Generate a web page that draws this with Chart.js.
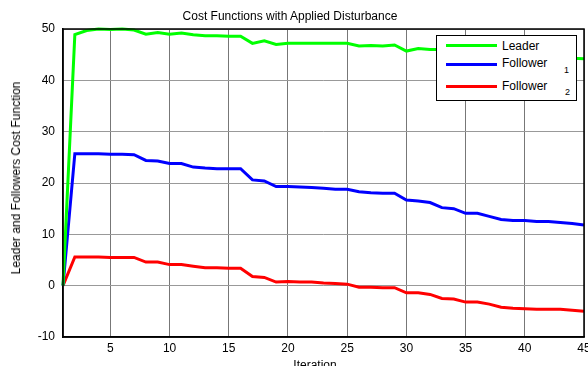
<!DOCTYPE html>
<html lang="en">
<head>
  <meta charset="UTF-8" />
  <title>Cost Functions with Applied Disturbance</title>
  <script src="https://cdn.jsdelivr.net/npm/chart.js"></script>
  <style>
    body { margin: 0; background: #fff; font-family: 'Liberation Sans', Arial, sans-serif; color: #000; }
    #wrap { position: relative; width: 588px; height: 366px; overflow: hidden; }
    #wrap canvas { position: absolute; left: 0; top: 0; }
    .txt { position: absolute; font-size: 12px; line-height: 14px; white-space: nowrap; }
    #title { left: 0; width: 580px; top: 9px; text-align: center; }
    #ylab { left: 16px; top: 178px; transform: translate(-50%, -50%) rotate(-90deg); }
    #xlab { left: 315px; top: 358px; transform: translateX(-50%); }
    #legend { position: absolute; left: 436px; top: 35px; width: 139px; height: 64px; border: 1.5px solid #000; background: #fff; }
    .swatch { position: absolute; left: 9px; width: 51px; height: 3px; }
    .leg { position: absolute; left: 65px; font-size: 12px; line-height: 14px; }
    .sub { position: absolute; font-size: 9px; line-height: 10px; }
  </style>
</head>
<body>
  <div id="wrap">
    <canvas id="chart" width="588" height="366"></canvas>
    <div class="txt" id="title">Cost Functions with Applied Disturbance</div>
    <div class="txt" id="ylab">Leader and Followers Cost Function</div>
    <div class="txt" id="xlab">Iteration</div>
    <div id="legend">
      <div class="swatch" style="top:8px; background:#00ff00"></div>
      <div class="leg" style="top:3px">Leader</div>
      <div class="swatch" style="top:27px; background:#0000ff"></div>
      <div class="leg" style="top:20px">Follower</div>
      <div class="sub" style="left:127px; top:29px">1</div>
      <div class="swatch" style="top:49px; background:#ff0000"></div>
      <div class="leg" style="top:43px">Follower</div>
      <div class="sub" style="left:128px; top:51px">2</div>
    </div>
  </div>

  <script>
    const iterations = [1, 2, 3, 4, 5, 6, 7, 8, 9, 10, 11, 12, 13, 14, 15, 16, 17, 18, 19, 20,
      21, 22, 23, 24, 25, 26, 27, 28, 29, 30, 31, 32, 33, 34, 35, 36, 37, 38, 39, 40,
      41, 42, 43, 44, 45];

    const leader = [0, 48.9, 49.7, 50, 49.9, 50, 49.8, 49.0, 49.3, 49.0, 49.2, 48.9, 48.7, 48.7, 48.6,
      48.6, 47.2, 47.7, 47.0, 47.2, 47.2, 47.2, 47.2, 47.2, 47.2, 46.7, 46.8, 46.7, 46.9, 45.7,
      46.2, 46.0, 46.0, 45.8, 45.5, 45.5, 45.3, 45.0, 44.8, 44.7, 44.6, 44.5, 44.4, 44.3, 44.2];

    const follower1 = [0, 25.7, 25.7, 25.7, 25.6, 25.6, 25.5, 24.4, 24.3, 23.8, 23.8, 23.1, 22.9, 22.8, 22.8,
      22.8, 20.6, 20.4, 19.3, 19.3, 19.2, 19.1, 19.0, 18.8, 18.8, 18.3, 18.1, 18.0, 18.0, 16.7,
      16.5, 16.2, 15.2, 15.0, 14.1, 14.1, 13.5, 12.9, 12.7, 12.7, 12.5, 12.5, 12.3, 12.1, 11.8];

    const follower2 = [0, 5.6, 5.6, 5.6, 5.5, 5.5, 5.5, 4.6, 4.6, 4.1, 4.1, 3.8, 3.5, 3.5, 3.4,
      3.4, 1.8, 1.6, 0.7, 0.8, 0.7, 0.7, 0.5, 0.4, 0.3, -0.3, -0.3, -0.4, -0.4, -1.4,
      -1.4, -1.7, -2.5, -2.6, -3.2, -3.2, -3.6, -4.2, -4.4, -4.5, -4.6, -4.6, -4.6, -4.8, -5.0];

    const xTicks = [5, 10, 15, 20, 25, 30, 35, 40, 45];
    const yTicks = [-10, 0, 10, 20, 30, 40, 50];

    function pts(values) {
      return iterations.map((it, i) => ({ x: it, y: values[i] }));
    }

    // MATLAB style box round the plot area
    const boxPlugin = {
      id: 'box',
      afterDatasetsDraw(chart) {
        const a = chart.chartArea;
        const ctx = chart.ctx;
        ctx.save();
        ctx.strokeStyle = '#000';
        ctx.lineWidth = 1.5;
        ctx.strokeRect(a.left, a.top, a.right - a.left, a.bottom - a.top);
        ctx.restore();
      }
    };

    const font = { family: "'Liberation Sans', Arial, sans-serif", size: 12 };

    new Chart(document.getElementById('chart'), {
      type: 'line',
      data: {
        datasets: [
          { label: 'Leader', data: pts(leader), borderColor: '#00ff00' },
          { label: 'Follower 1', data: pts(follower1), borderColor: '#0000ff' },
          { label: 'Follower 2', data: pts(follower2), borderColor: '#ff0000' }
        ]
      },
      options: {
        responsive: false,
        animation: false,
        layout: { padding: { left: 0, right: 4, top: 29, bottom: 0 } },
        elements: {
          line: { borderWidth: 3, tension: 0, fill: false },
          point: { radius: 0 }
        },
        datasets: { line: { clip: false } },
        plugins: {
          legend: { display: false },
          title: { display: false },
          tooltip: { enabled: false }
        },
        scales: {
          x: {
            type: 'linear',
            min: 1,
            max: 45,
            afterBuildTicks: s => { s.ticks = xTicks.map(v => ({ value: v })); },
            afterFit: s => { s.height = 29; s.paddingLeft = 0; s.paddingRight = 0; },
            ticks: { color: '#000', font: font, padding: 4, maxRotation: 0 },
            grid: { color: '#777', lineWidth: 1, drawTicks: false },
            border: { color: '#000', width: 1.5 }
          },
          y: {
            min: -10,
            max: 50,
            afterBuildTicks: s => { s.ticks = yTicks.map(v => ({ value: v })); },
            afterFit: s => { s.width = 63; s.paddingTop = 0; s.paddingBottom = 0; },
            ticks: { color: '#000', font: font, padding: 8 },
            grid: { color: '#999', lineWidth: 1, drawTicks: false },
            border: { color: '#000', width: 1.5 }
          }
        }
      },
      plugins: [boxPlugin]
    });
  </script>
</body>
</html>
